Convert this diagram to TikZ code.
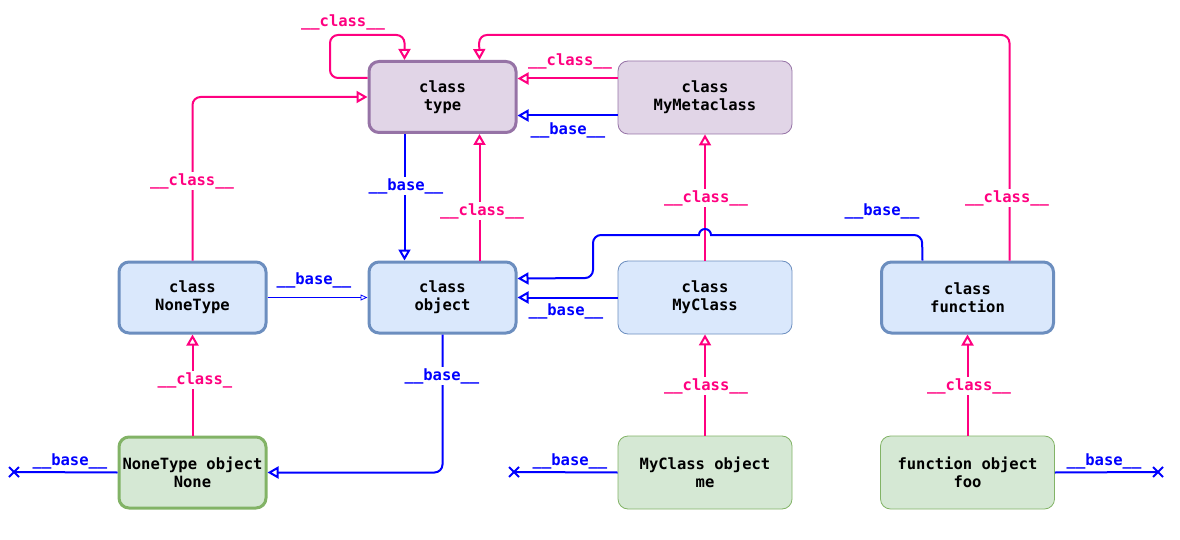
\documentclass[tikz,border=0pt]{standalone}
\usepackage{fontspec}
\setmonofont{DejaVu Sans Mono}
\usetikzlibrary{arrows.meta,shapes.misc}

\definecolor{clspink}{HTML}{FF0080}
\definecolor{basblue}{HTML}{0000FF}
\definecolor{metaline}{HTML}{9673A6}
\definecolor{metafill}{HTML}{E1D5E7}
\definecolor{typeline}{HTML}{6C8EBF}
\definecolor{typefill}{HTML}{DAE8FC}
\definecolor{objline}{HTML}{82B366}
\definecolor{objfill}{HTML}{D5E8D4}

\tikzset{
  box/.style={rounded corners=10pt, align=center, inner sep=0pt,
    font=\ttfamily\bfseries\fontsize{15.5}{18}\selectfont},
  thickbox/.style={box, line width=3pt, minimum width=147pt, minimum height=71pt},
  thinbox/.style={box, line width=0.8pt, minimum width=174pt, minimum height=73pt},
  metabox/.style={draw=metaline, fill=metafill},
  typebox/.style={draw=typeline, fill=typefill},
  objbox/.style={draw=objline, fill=objfill},
  cls/.style={draw=clspink, line width=2pt, rounded corners=8pt,
    -{Triangle[open,length=11pt,width=12pt]}},
  bas/.style={draw=basblue, line width=2pt, rounded corners=8pt,
    -{Triangle[open,length=11pt,width=12pt]}},
  basthin/.style={draw=basblue, line width=0.8pt,
    -{Triangle[open,length=7pt,width=6pt]}},
  lbl/.style={font=\ttfamily\bfseries\fontsize{15.5}{18}\selectfont, inner sep=1pt},
  lblc/.style={lbl, text=clspink},
  lblb/.style={lbl, text=basblue},
  online/.style={fill=white},
  xmark/.style={draw=basblue, cross out, line width=2pt, minimum size=8pt, inner sep=0pt},
}

\begin{document}
\begin{tikzpicture}[x=1pt, y=-1pt]
\useasboundingbox (0,0) rectangle (1180,540);

% classes
\node[thickbox, metabox] (type) at (442.5,97) {class\\type};
\node[thinbox, metabox] (meta) at (705,97.5) {class\\MyMetaclass};
\node[thickbox, typebox] (nonetype) at (192.5,297.5) {class\\NoneType};
\node[thickbox, typebox] (object) at (442.5,297.5) {class\\object};
\node[thinbox, typebox] (myclass) at (705,297.5) {class\\MyClass};
\node[thickbox, typebox, minimum width=172pt] (function) at (967.5,297.5) {class\\function};

% instances
\node[thickbox, objbox] (noneobj) at (192.5,472.5) {NoneType object\\None};
\node[thinbox, objbox] (meobj) at (705,472.5) {MyClass object\\me};
\node[thinbox, objbox] (fooobj) at (967.5,472.5) {function object\\foo};

\coordinate (noneend) at (14,472);
\coordinate (meend) at (514,472);
\coordinate (fooend) at (1158,472);

% __class__ links
\draw[cls] ([yshift=19pt]type.west) -| (330,35) -| ([xshift=-38pt]type.north);
\node[lblc] (l1) at (343,22) {\_\_class\_\_};
\draw[cls] ([xshift=42pt]function.north) |- (479,35) -- ([xshift=37pt]type.north);
\node[lblc, online] (l2) at (1007,198) {\_\_class\_\_};
\draw[cls] ([yshift=19pt]meta.west) -- ([yshift=19pt]meta.west -| type.east);
\node[lblc] (l3) at (570,61) {\_\_class\_\_};
\draw[cls] (nonetype.north) |- (type.west);
\node[lblc, online] (l4) at (192,181) {\_\_class\_\_};
\draw[cls] ([xshift=37pt]object.north) -- ([xshift=37pt]type.south);
\node[lblc, online] (l5) at (482,211) {\_\_class\_\_};
\draw[cls] (myclass.north) -- (meta.south);
\node[lblc, online] (l6) at (706,198) {\_\_class\_\_};
\draw[cls] (noneobj.north) -- (nonetype.south);
\node[lblc, online] (l7) at (195,380) {\_\_class\_};
\draw[cls] (meobj.north) -- (myclass.south);
\node[lblc, online] (l8) at (706,386) {\_\_class\_\_};
\draw[cls] (fooobj.north) -- (function.south);
\node[lblc, online] (l9) at (969,386) {\_\_class\_\_};

% __base__ links
\draw[bas] ([yshift=-18pt]meta.west) -- ([yshift=-18pt]meta.west -| type.east);
\node[lblb] (b1) at (568,130) {\_\_base\_\_};
\draw[bas] ([xshift=-38pt]type.south) -- ([xshift=-38pt]object.north);
\node[lblb, online] (b2) at (406,186) {\_\_base\_\_};
\draw[basthin] (nonetype.east) -- (object.west);
\node[lblb] (b3) at (314,280) {\_\_base\_\_};
\draw[bas] (myclass.west) -- (object.east);
\node[lblb] (b4) at (566,311) {\_\_base\_\_};
\draw[bas] ([xshift=-45pt]function.north) -- (922,235) [sharp corners] -- (711,235)
  arc[start angle=0, end angle=180, radius=6pt] [rounded corners=8pt]
  -- (593,235) -- (593,278) -- ([yshift=19pt]object.east);
\node[lblb] (b5) at (882,211) {\_\_base\_\_};
\draw[bas] (object.south) |- (noneobj.east);
\node[lblb, online] (b6) at (442,376) {\_\_base\_\_};

% bases of instances
\draw[bas, -] (noneobj.west) -- (noneend);
\node[xmark] at (noneend) {};
\node[lblb] (b7) at (70,461) {\_\_base\_\_};
\draw[bas, -] (meobj.west) -- (meend);
\node[xmark] at (meend) {};
\node[lblb] (b8) at (570,461) {\_\_base\_\_};
\draw[bas, -] (fooobj.east) -- (fooend);
\node[xmark] at (fooend) {};
\node[lblb] (b9) at (1104,461) {\_\_base\_\_};
\end{tikzpicture}
\end{document}
